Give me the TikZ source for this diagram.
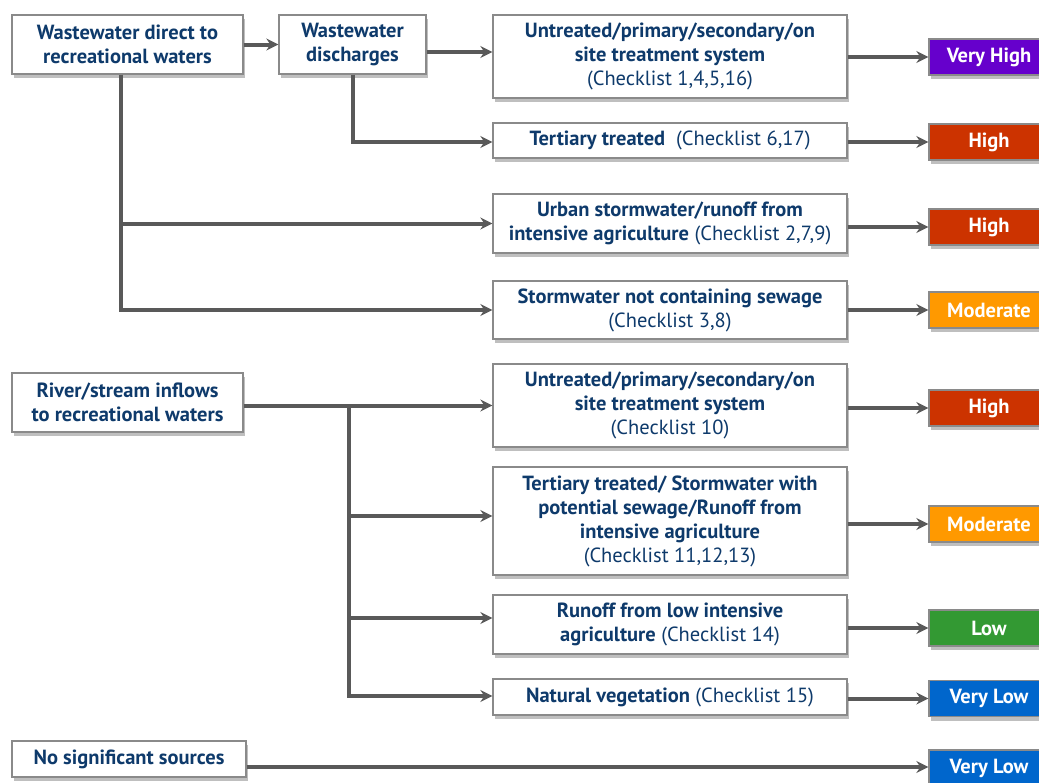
\documentclass[tikz,border=0pt]{standalone}
\usepackage{fontspec}
\setmainfont{PT Sans}
\usetikzlibrary{arrows.meta,shadows,calc}
\definecolor{txt}{HTML}{0E3A6B}
\definecolor{lin}{HTML}{595959}
\definecolor{bord}{HTML}{8A8A8A}
\definecolor{vhigh}{HTML}{6600CC}
\definecolor{high}{HTML}{CC3300}
\definecolor{moder}{HTML}{FF9900}
\definecolor{low}{HTML}{339933}
\definecolor{vlow}{HTML}{0066CC}
\begin{document}
\begin{tikzpicture}[x=1pt,y=-1pt,
  box/.style={draw=bord,line width=1.3pt,fill=white,inner sep=0pt,align=center,
    text=txt,font=\fontsize{20.5}{24}\selectfont,
    drop shadow={shadow xshift=2pt,shadow yshift=-4pt,opacity=0.25,fill=black}},
  risk/.style={draw=bord,line width=1.3pt,inner sep=0pt,align=center,text=white,
    font=\fontsize{20.5}{24}\selectfont\bfseries,minimum width=120pt,minimum height=36pt,
    drop shadow={shadow xshift=2pt,shadow yshift=-4pt,opacity=0.25,fill=black}},
  arr/.style={draw=lin,line width=4pt,-{Stealth[length=12pt,width=12pt,inset=4pt]}},
  conn/.style={draw=lin,line width=4pt}]
\useasboundingbox (0,0) rectangle (1039,782);
\fill[white] (0,0) rectangle (1039,782);
% left column
\node[box,minimum width=231pt,minimum height=59pt] (A) at (127.5,44.5) {\bfseries Wastewater direct to\\\bfseries recreational waters};
\node[box,minimum width=147pt,minimum height=59pt] (B) at (352.5,44.5) {\bfseries Wastewater\\\bfseries discharges};
\node[box,minimum width=231pt,minimum height=59pt] (D) at (127.5,402.5) {\bfseries River/stream inflows\\\bfseries to recreational waters};
\node[box,minimum width=234pt,minimum height=36pt] (E) at (129,759) {\bfseries No significant sources};
% middle column
\node[box,minimum width=354pt,minimum height=83pt] (C1) at (670,56.5) {\bfseries Untreated/primary/secondary/on\\\bfseries site treatment system\\(Checklist 1,4,5,16)};
\node[box,minimum width=354pt,minimum height=35pt] (C2) at (670,140.5) {\textbf{Tertiary treated}\ \ (Checklist 6,17)};
\node[box,minimum width=354pt,minimum height=59pt] (C3) at (670,223.5) {\bfseries Urban stormwater/runoff from\\\textbf{intensive agriculture} (Checklist 2,7,9)};
\node[box,minimum width=354pt,minimum height=58pt] (C4) at (670,310) {\bfseries Stormwater not containing sewage\\(Checklist 3,8)};
\node[box,minimum width=354pt,minimum height=83pt] (C5) at (670,405.5) {\bfseries Untreated/primary/secondary/on\\\bfseries site treatment system\\(Checklist 10)};
\node[box,minimum width=354pt,minimum height=108pt] (C6) at (670,521) {\bfseries Tertiary treated/ Stormwater with\\\bfseries potential sewage/Runoff from\\\bfseries intensive agriculture\\(Checklist 11,12,13)};
\node[box,minimum width=354pt,minimum height=59pt] (C7) at (670,624.5) {\bfseries Runoff from low intensive\\\textbf{agriculture} (Checklist 14)};
\node[box,minimum width=354pt,minimum height=36pt] (C8) at (670,697) {\textbf{Natural vegetation} (Checklist 15)};
% risk column
\node[risk,fill=vhigh] (R1) at (989,57) {Very High};
\node[risk,fill=high] (R2) at (989,142) {High};
\node[risk,fill=high] (R3) at (989,227) {High};
\node[risk,fill=moder] (R4) at (989,310) {Moderate};
\node[risk,fill=high] (R5) at (989,408) {High};
\node[risk,fill=moder] (R6) at (989,524) {Moderate};
\node[risk,fill=low] (R7) at (989,628) {Low};
\node[risk,fill=vlow] (R8) at (989,698.5) {Very Low};
\node[risk,fill=vlow] (R9) at (989,768) {Very Low};
% connectors: left part
\draw[arr] (A.east) -- (B.west);
\draw[arr] ($(B.east)+(0,7.5)$) coordinate (b1) -- (b1 -| C1.west);
\draw[arr] (B.south) |- ($(C2.west)+(0,1.5)$);
\coordinate (a1) at ($(A.south)+(-6.5,0)$);
\draw[arr] (a1) |- (C3.west);
\draw[arr] (a1) |- (C4.west);
\draw[arr] (D.east |- C5.west) -- (C5.west);
\coordinate (j) at (349,405.5);
\draw[arr] (j) |- ($(C6.west)+(0,-5)$);
\draw[arr] (j) |- ($(C7.west)+(0,-6.5)$);
\draw[arr] (j) |- ($(C8.west)+(0,-1)$);
\draw[arr] ($(E.east)+(0,8)$) coordinate (e1) -- (e1 -| R9.west);
% connectors: to risk
\draw[arr] (C1.east |- R1.west) -- (R1.west);
\draw[arr] (C2.east |- R2.west) -- (R2.west);
\draw[arr] (C3.east |- R3.west) -- (R3.west);
\draw[arr] (C4.east |- R4.west) -- (R4.west);
\draw[arr] (C5.east |- R5.west) -- (R5.west);
\draw[arr] (C6.east |- R6.west) -- (R6.west);
\draw[arr] (C7.east |- R7.west) -- (R7.west);
\draw[arr] (C8.east |- R8.west) -- (R8.west);
\end{tikzpicture}
\end{document}
